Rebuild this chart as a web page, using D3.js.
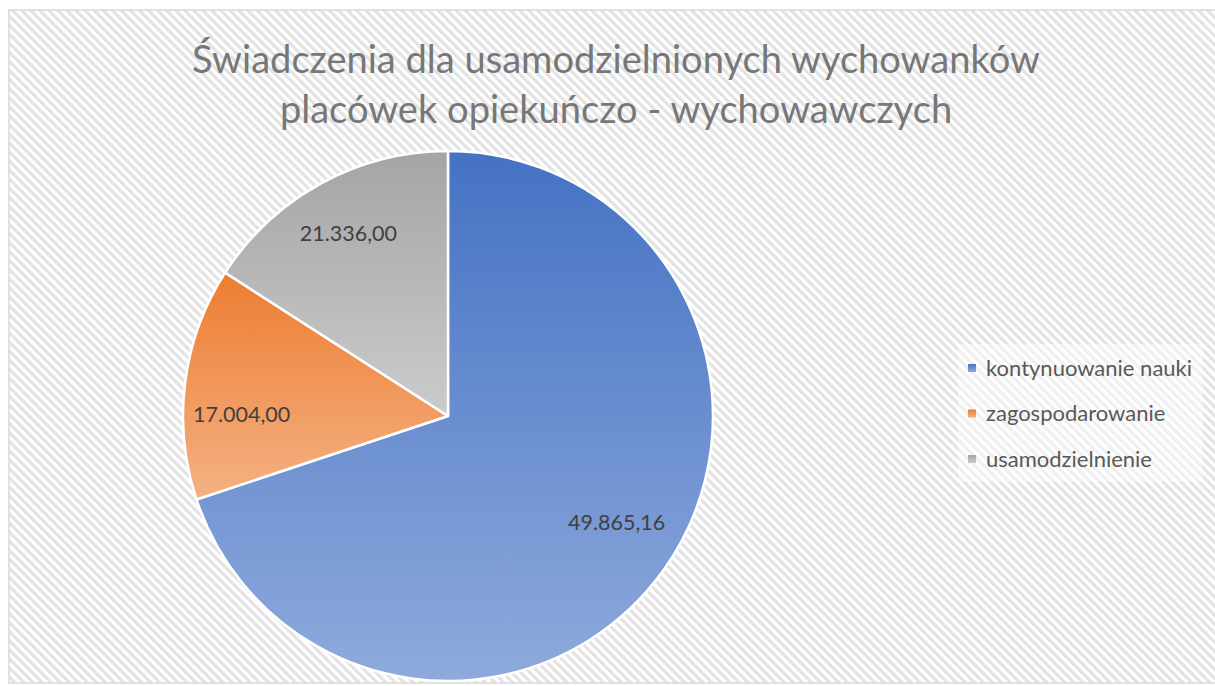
<!DOCTYPE html>
<html>
<head>
<meta charset="utf-8">
<script src="https://cdn.jsdelivr.net/npm/d3@7"></script>
<style>
  body { margin: 0; background: #fff; }
  svg { display: block; }
</style>
</head>
<body>
<div id="canvas"></div>
<script>
// ---- DATA ----
var categories = ['kontynuowanie nauki', 'zagospodarowanie', 'usamodzielnienie'];
var shares = [69.9, 14.2, 15.9];              // slice size (%)
var valueLabels = ['49.865,16', '17.004,00', '21.336,00'];
var titleLines = ['Świadczenia dla usamodzielnionych wychowanków', 'placówek opiekuńczo - wychowawczych'];
var colorsTop = ['#4472c4', '#ed7d31', '#a5a5a5'];
var colorsBottom = ['#8faadc', '#f4b183', '#cbcbcb'];

// ---- CONVENTIONS ----
var outerWidth = 1215,
    outerHeight = 686;

var svg = d3.select('#canvas')
    .append('svg')
    .attr('width', outerWidth)
    .attr('height', outerHeight);

var defs = svg.append('defs');

// diagonal hatch background
var hatch = defs.append('pattern')
    .attr('id', 'hatch')
    .attr('patternUnits', 'userSpaceOnUse')
    .attr('width', 6.4)
    .attr('height', 6.4)
    .attr('patternTransform', 'rotate(-45)');
hatch.append('rect').attr('width', 6.4).attr('height', 6.4).attr('fill', '#ffffff');
hatch.append('rect').attr('width', 3.2).attr('height', 6.4).attr('fill', '#e3e3e3');

// gradients for slices
categories.forEach(function(c, i){
    var g = defs.append('linearGradient')
        .attr('id', 'grad' + i)
        .attr('x1', 0).attr('y1', 0)
        .attr('x2', 0).attr('y2', 1);
    g.append('stop').attr('offset', '0%').attr('stop-color', colorsTop[i]);
    g.append('stop').attr('offset', '100%').attr('stop-color', colorsBottom[i]);
});

// chart area
svg.append('rect')
    .attr('x', 9).attr('y', 10)
    .attr('width', outerWidth).attr('height', 673)
    .attr('fill', 'url(#hatch)')
    .attr('stroke', '#d9d9d9')
    .attr('stroke-width', 1.5);

// ---- TITLE ----
var title = svg.append('g').attr('class', 'title');
var titleTexts = title.selectAll('text')
    .data(titleLines)
    .enter()
    .append('text')
    .attr('x', 616)
    .attr('y', function(d, i){ return 73 + i * 50; })
    .attr('text-anchor', 'middle')
    .style('font-family', 'Lato, "Open Sans", sans-serif')
    .style('font-weight', 400)
    .style('font-size', '37px')
    .style('fill', '#777777')
    .text(function(d){ return d; });

// scale title so the first line is as wide as in the picture (~848px)
var w0 = titleTexts.node().getComputedTextLength();
titleTexts.style('font-size', (37 * 848 / w0) + 'px');

// ---- PIE ----
var cx = 448, cy = 416, radius = 265;

var pie = d3.pie()
    .sort(null)
    .value(function(d){ return d; });

var arc = d3.arc()
    .innerRadius(0)
    .outerRadius(radius);

var plot = svg.append('g')
    .attr('transform', 'translate(' + cx + ',' + cy + ')');

var arcs = pie(shares);

plot.selectAll('.slice')
    .data(arcs)
    .enter()
    .append('path')
    .attr('class', 'slice')
    .attr('d', arc)
    .attr('fill', function(d, i){ return 'url(#grad' + i + ')'; })
    .attr('stroke', '#ffffff')
    .attr('stroke-width', 2.5)
    .attr('stroke-linejoin', 'round');

// data labels (excel "best fit" shifts a couple of them a bit)
var labelArc = d3.arc()
    .innerRadius(radius * 0.785)
    .outerRadius(radius * 0.785);
var labelNudgeY = [-15, 25, 0];

plot.selectAll('.label')
    .data(arcs)
    .enter()
    .append('text')
    .attr('class', 'label')
    .attr('transform', function(d, i){
        var c = labelArc.centroid(d);
        return 'translate(' + c[0] + ',' + (c[1] + labelNudgeY[i]) + ')';
    })
    .attr('text-anchor', 'middle')
    .attr('dy', '0.35em')
    .style('font-family', 'Lato, "Open Sans", sans-serif')
    .style('font-size', '21.5px')
    .style('fill', '#404040')
    .text(function(d, i){ return valueLabels[i]; });

// ---- LEGEND ----
svg.append('rect')
    .attr('x', 958).attr('y', 344)
    .attr('width', 245).attr('height', 138)
    .attr('fill', '#ffffff')
    .attr('fill-opacity', 0.45);

var legend = svg.append('g')
    .attr('transform', 'translate(968,368)');

var rows = legend.selectAll('.row')
    .data(categories)
    .enter()
    .append('g')
    .attr('class', 'row')
    .attr('transform', function(d, i){ return 'translate(0,' + (i * 45.5) + ')'; });

rows.append('rect')
    .attr('x', 0).attr('y', -4)
    .attr('width', 8).attr('height', 8)
    .attr('fill', function(d, i){ return 'url(#grad' + i + ')'; });

rows.append('text')
    .attr('x', 18)
    .attr('dy', '0.35em')
    .style('font-family', 'Lato, "Open Sans", sans-serif')
    .style('font-size', '22px')
    .style('fill', '#595959')
    .text(function(d){ return d; });
</script>
</body>
</html>
